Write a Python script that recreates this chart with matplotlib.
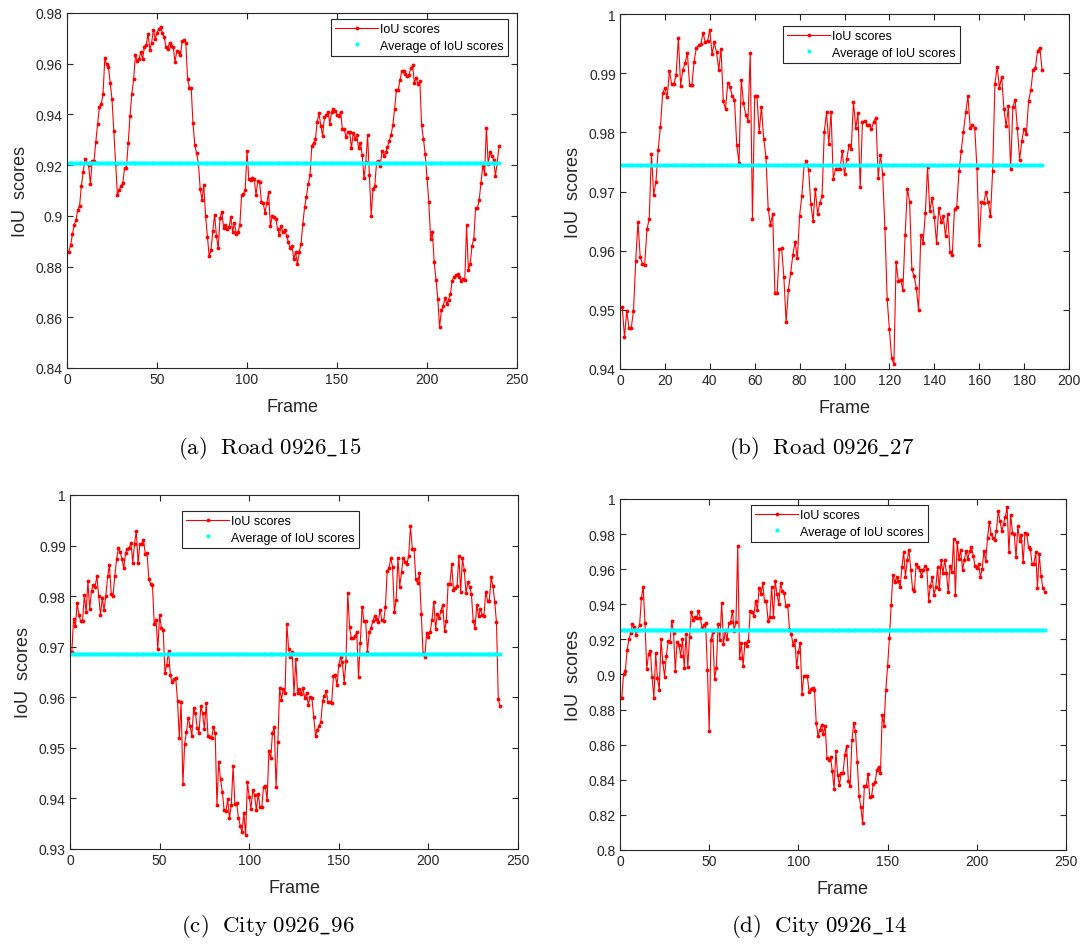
import numpy as np
import matplotlib
matplotlib.use('Agg')
import matplotlib.pyplot as plt
from matplotlib.ticker import FuncFormatter, MultipleLocator

# --- DATA ---
iou_a = [
    0.8859, 0.8885, 0.8927, 0.8964, 0.8985, 0.9024, 0.904, 0.9119, 0.9174, 0.9226,
    0.9208, 0.92, 0.9125, 0.9216, 0.9217, 0.9292, 0.9361, 0.9431, 0.9441, 0.9479,
    0.9621, 0.9597, 0.9588, 0.9523, 0.946, 0.9335, 0.9204, 0.9083, 0.9102, 0.9119,
    0.9129, 0.919, 0.919, 0.9287, 0.9394, 0.9481, 0.9538, 0.9633, 0.961, 0.9617,
    0.9647, 0.9617, 0.9667, 0.9672, 0.9719, 0.9656, 0.9683, 0.9732, 0.9698, 0.9722,
    0.9738, 0.9744, 0.9722, 0.9704, 0.9667, 0.9659, 0.9683, 0.967, 0.9666, 0.9607,
    0.965, 0.9646, 0.9635, 0.9688, 0.9693, 0.9683, 0.9538, 0.9506, 0.9503, 0.9365,
    0.9279, 0.9246, 0.9208, 0.9106, 0.9064, 0.9121, 0.8998, 0.8918, 0.884, 0.8865,
    0.894, 0.9005, 0.8922, 0.8872, 0.899, 0.9017, 0.8954, 0.8964, 0.8948, 0.8955,
    0.8996, 0.8938, 0.8972, 0.893, 0.8938, 0.8962, 0.9082, 0.9086, 0.9102, 0.9255,
    0.9145, 0.9142, 0.9148, 0.9145, 0.9083, 0.9137, 0.9132, 0.9056, 0.9051, 0.9011,
    0.9051, 0.9093, 0.8959, 0.8998, 0.8994, 0.8988, 0.8948, 0.8925, 0.8959, 0.8935,
    0.8946, 0.8922, 0.8896, 0.8872, 0.8883,
    0.883, 0.8857, 0.8811, 0.8857, 0.8889, 0.8968, 0.9034, 0.9076, 0.9125, 0.9161,
    0.9274, 0.9289, 0.9302, 0.9371, 0.9405, 0.9355, 0.9316, 0.9388, 0.9397, 0.941,
    0.9363, 0.941, 0.9423, 0.9415, 0.9397, 0.9394, 0.941, 0.9342, 0.9342, 0.931,
    0.9329, 0.9331, 0.9266, 0.9326, 0.9305, 0.9318, 0.9266, 0.9289, 0.9241, 0.9148,
    0.9211, 0.9318, 0.9162, 0.9001, 0.9106, 0.9119, 0.9213, 0.9216, 0.9198, 0.9255,
    0.9237, 0.925, 0.927, 0.9296, 0.9318, 0.9357, 0.942, 0.9496, 0.9496, 0.9536,
    0.9571, 0.9571, 0.9558, 0.9551, 0.9557, 0.9582, 0.9593, 0.9525, 0.9545, 0.9519,
    0.9532, 0.9357, 0.9305, 0.9243, 0.9148, 0.9056, 0.8909, 0.8938, 0.8817, 0.8749,
    0.8673, 0.8562, 0.8627, 0.8643, 0.8676, 0.8653, 0.867, 0.869, 0.8745, 0.8758,
    0.8765, 0.8769, 0.8757, 0.8745, 0.8752, 0.8747, 0.8964, 0.8785, 0.8811, 0.8883,
    0.8909, 0.903, 0.903, 0.9064, 0.9129, 0.9198, 0.9165, 0.9348, 0.9204, 0.925,
    0.9237, 0.9221, 0.9158, 0.9208, 0.9274,
]
iou_b = [
    0.9504, 0.9454, 0.9498, 0.9469, 0.9469, 0.9498, 0.9582, 0.9649, 0.9589, 0.9578,
    0.9576, 0.9636, 0.9653, 0.9764, 0.9694, 0.9716, 0.977, 0.9809, 0.9866, 0.9875,
    0.9859, 0.9904, 0.9881, 0.9881, 0.9897, 0.996, 0.9879, 0.9906, 0.9917, 0.9934,
    0.988, 0.988, 0.9919, 0.9943, 0.9947, 0.9949, 0.9968, 0.9952, 0.9955, 0.9973,
    0.9932, 0.9952, 0.9935, 0.9906, 0.9941, 0.9853, 0.984, 0.9883, 0.9877, 0.9861,
    0.9855, 0.9779, 0.9748, 0.9889, 0.9849, 0.983, 0.982, 0.9934, 0.9653, 0.9861,
    0.9861, 0.98, 0.9843, 0.9789, 0.9759, 0.9671, 0.9644, 0.9662, 0.9529, 0.9529,
    0.9602, 0.9604, 0.9555, 0.9479, 0.9534, 0.9562, 0.9593, 0.9615, 0.9587, 0.9659,
    0.9693, 0.9744, 0.9752, 0.9737, 0.9679, 0.965, 0.9705, 0.9662, 0.9681, 0.9692,
    0.9801, 0.9834, 0.978, 0.9835, 0.9721, 0.9738, 0.9738, 0.9738, 0.9768, 0.9729,
    0.9755, 0.9778, 0.9772, 0.9852, 0.9807, 0.9832, 0.9707, 0.9817, 0.982, 0.9813,
    0.9812, 0.9805, 0.9818, 0.9825, 0.9723, 0.9762, 0.9729, 0.9638, 0.9519, 0.9467,
    0.9418, 0.9409, 0.9581, 0.9548, 0.9551, 0.9534, 0.9626, 0.9705, 0.9683, 0.9569,
    0.9557, 0.9537, 0.9499, 0.9627, 0.9613, 0.9663, 0.9742, 0.9667, 0.9689, 0.9657,
    0.9613, 0.9672, 0.9649, 0.9658, 0.9624, 0.9662, 0.9597, 0.9592, 0.9671, 0.9674,
    0.9734, 0.9769, 0.9801, 0.9834, 0.9861, 0.9807, 0.9813, 0.9808, 0.974, 0.961,
    0.9683, 0.9681, 0.9699, 0.9682, 0.9658, 0.9735, 0.9882, 0.9911, 0.9875, 0.9894,
    0.984, 0.981, 0.9844, 0.9738, 0.9843, 0.9855, 0.9807, 0.9754, 0.9786, 0.9806,
    0.9797, 0.9853, 0.9872, 0.9905, 0.9908, 0.9938, 0.9943, 0.9906,
]
iou_c = [
    0.969, 0.9754, 0.9741, 0.9786, 0.9763, 0.975, 0.975, 0.9802, 0.9768, 0.9829,
    0.9774, 0.9811, 0.9823, 0.9819, 0.9839, 0.98, 0.9763, 0.9796, 0.9773, 0.98,
    0.9839, 0.9862, 0.9804, 0.98, 0.984, 0.9873, 0.9895, 0.9888, 0.9873, 0.9855,
    0.9886, 0.9893, 0.9895, 0.9906, 0.9866, 0.9903, 0.9929, 0.9865, 0.9903, 0.9904,
    0.9911, 0.9884, 0.9885, 0.9833, 0.9824, 0.9823, 0.9745, 0.9753, 0.9695, 0.9763,
    0.9737, 0.9733, 0.9648, 0.9664, 0.9692, 0.9644, 0.963, 0.9636, 0.9638, 0.9593,
    0.952, 0.959, 0.9428, 0.9508, 0.9532, 0.9559, 0.9543, 0.9524, 0.9578, 0.9568,
    0.9539, 0.953, 0.9582, 0.9568, 0.9537, 0.9588, 0.9524, 0.9522, 0.9519, 0.9541,
    0.9529, 0.9387, 0.9473, 0.9438, 0.9413, 0.9377, 0.9375, 0.9398, 0.9361, 0.9387,
    0.9464, 0.9389, 0.939, 0.9362, 0.9346, 0.9334, 0.9372, 0.9327, 0.9433, 0.9402,
    0.938, 0.9417, 0.9407, 0.9377, 0.9409, 0.9383, 0.9383, 0.9423, 0.9425, 0.9396,
    0.9493, 0.9479, 0.953, 0.9541, 0.9423, 0.9512, 0.9618, 0.9595, 0.9616, 0.9608,
    0.9745, 0.9695,
    0.9679, 0.9689, 0.9607, 0.9675, 0.9608, 0.9617, 0.9607, 0.9618, 0.9598, 0.9608,
    0.9585, 0.9601, 0.9598, 0.9562, 0.9524, 0.9535, 0.9543, 0.9552, 0.9593, 0.9603,
    0.9613, 0.959, 0.959, 0.9588, 0.9642, 0.9644, 0.9624, 0.9664, 0.9679, 0.9669,
    0.9629, 0.9671, 0.9807, 0.9738, 0.9717, 0.9717, 0.9721, 0.9729, 0.9641, 0.9708,
    0.9779, 0.9751, 0.975, 0.969, 0.9729, 0.9737, 0.9751, 0.9761, 0.9754, 0.9748,
    0.9773, 0.9753, 0.975, 0.9778, 0.9849, 0.9856, 0.9875, 0.9858, 0.9768, 0.9793,
    0.9875, 0.9819, 0.9847, 0.9876, 0.9868, 0.9863, 0.988, 0.9938, 0.9894, 0.9893,
    0.9833, 0.9826, 0.9845, 0.9765, 0.9688, 0.9679, 0.9727, 0.9719, 0.9729, 0.9753,
    0.9789, 0.9735, 0.9765, 0.9756, 0.9771, 0.9783, 0.9731, 0.9751, 0.9824, 0.9824,
    0.9863, 0.9812, 0.9816, 0.982, 0.988, 0.9809, 0.9875, 0.9852, 0.9806, 0.9827,
    0.9818, 0.9804, 0.9751, 0.9737, 0.9783, 0.976, 0.9774, 0.9763, 0.9761, 0.9809,
    0.9791, 0.9791, 0.9837, 0.982, 0.9789, 0.9748, 0.9596, 0.9582,
]
iou_d = [
    0.8866, 0.9003, 0.9022, 0.914, 0.92, 0.9236, 0.9288, 0.9269, 0.9227, 0.9254,
    0.9284, 0.9436, 0.95, 0.9291, 0.9032, 0.9117, 0.9136, 0.8984, 0.8866, 0.9121,
    0.8978, 0.8914, 0.9202, 0.9069, 0.8988, 0.9107, 0.9189, 0.9183, 0.9307, 0.9236,
    0.9022, 0.9183, 0.917, 0.9107, 0.9202, 0.9039, 0.9231, 0.9045, 0.9212, 0.9358,
    0.9312, 0.9326, 0.9322, 0.936, 0.9322, 0.9265, 0.9282, 0.9291, 0.9026, 0.868,
    0.9197, 0.9244, 0.8975, 0.9037, 0.9288, 0.9197, 0.9409, 0.9174, 0.9246, 0.92,
    0.9291, 0.9297, 0.9364, 0.925, 0.9299, 0.9732, 0.9096, 0.9178, 0.905, 0.9178,
    0.9164, 0.9193, 0.9364, 0.9354, 0.9335, 0.942, 0.9369, 0.9493, 0.9458, 0.9519,
    0.9417, 0.942, 0.9307, 0.9326, 0.95, 0.9326, 0.9531, 0.9458, 0.9402, 0.9519,
    0.9477, 0.9462, 0.939, 0.9398, 0.9259, 0.9231, 0.9168, 0.9197, 0.9041, 0.913,
    0.9178, 0.8889, 0.899, 0.8992, 0.8992, 0.8899, 0.8918, 0.8921, 0.8914, 0.8724,
    0.8652, 0.8684, 0.8713, 0.8661, 0.8709, 0.8523, 0.8513, 0.8529, 0.8449, 0.8348,
    0.8563, 0.8428, 0.8371, 0.8438, 0.8438, 0.8542, 0.8593, 0.8396, 0.8362, 0.8624,
    0.8722, 0.8677, 0.85, 0.831, 0.8244, 0.8153, 0.8367, 0.8362, 0.8434, 0.8301,
    0.8307, 0.8377, 0.8386, 0.8457, 0.8472, 0.8438, 0.8772, 0.8709, 0.8914, 0.9047,
    0.9206, 0.9396, 0.9568, 0.9525, 0.9553, 0.9534, 0.9496, 0.961, 0.9699, 0.9557,
    0.9652, 0.9709, 0.9595, 0.9487, 0.9477, 0.9629, 0.961, 0.9595, 0.9563, 0.9595,
    0.962, 0.9601, 0.942, 0.9506, 0.9553, 0.9455, 0.9496, 0.961, 0.9487, 0.9654,
    0.9576, 0.9652, 0.9576, 0.9468, 0.962, 0.9582, 0.9772, 0.9455, 0.9753, 0.9658,
    0.9709, 0.9597, 0.9652, 0.9705, 0.9658, 0.9705, 0.9724, 0.9677, 0.9616, 0.9605,
    0.9629, 0.9557, 0.9601, 0.9705, 0.9644, 0.9777, 0.987, 0.98, 0.9777, 0.9766,
    0.9819, 0.9933, 0.9872, 0.9819, 0.9857, 0.9899, 0.9952, 0.9696, 0.991, 0.9809,
    0.98, 0.9667, 0.9847, 0.9762, 0.9796, 0.9639, 0.9809, 0.98, 0.9724, 0.9715,
    0.9629, 0.9629, 0.9696, 0.9493, 0.9686, 0.9563, 0.9493, 0.9472,
]
# average IoU levels (cyan lines)
avg_a, avg_b, avg_c, avg_d = 0.9208, 0.9744, 0.9685, 0.9253

captions = ['(a)  Road 0926_15', '(b)  Road 0926_27', '(c)  City 0926_96', '(d)  City 0926_14']

# --- STYLE ---
plt.rcParams['font.family'] = ['Liberation Sans', 'DejaVu Sans']
plt.rcParams['mathtext.fontset'] = 'cm'
AXC = '#262626'

W, H = 1083, 945
fig = plt.figure(figsize=(W / 100, H / 100), dpi=100)


def px_axes(l, t, r, b):
    return fig.add_axes([l / W, 1 - b / H, (r - l) / W, (b - t) / H])


panels = [
    # data, avg, axes box (px), xlim, ylim, y step, legend top-left (px)
    (iou_a, avg_a, (67, 14, 517, 369), 250, (0.84, 0.98), 0.02, (331, 20)),
    (iou_b, avg_b, (620, 15, 1069, 370), 200, (0.94, 1.0), 0.01, (783, 27)),
    (iou_c, avg_c, (70, 496, 518, 850), 250, (0.93, 1.0), 0.01, (182, 512)),
    (iou_d, avg_d, (620, 500, 1066, 851), 250, (0.80, 1.0), 0.02, (751, 506)),
]
caption_xy = [(270, 448), (822, 448), (268, 926), (819, 926)]

for (vals, avg, box, xmax, ylim, ystep, leg), cap, cxy in zip(panels, captions, caption_xy):
    ax = px_axes(*box)
    frames = np.arange(1, len(vals) + 1)
    ax.plot(frames, vals, '.-', color='red', lw=0.8, ms=3.5, label='IoU scores')
    ax.plot(frames, np.full(len(vals), avg), '.', color='cyan', ms=4, label='Average of IoU scores')

    ax.set_xlim(0, xmax)
    ax.set_ylim(*ylim)
    ax.xaxis.set_major_locator(MultipleLocator(50 if xmax == 250 else 20))
    ax.yaxis.set_major_locator(MultipleLocator(ystep))
    ax.yaxis.set_major_formatter(FuncFormatter(lambda v, p: f'{round(v, 4):g}'))
    ax.tick_params(direction='in', length=4, width=0.8, colors=AXC, labelsize=10,
                   top=True, right=True, pad=3)
    for s in ax.spines.values():
        s.set_color(AXC)
        s.set_linewidth(0.8)

    ax.set_xlabel('Frame', fontsize=13, color=AXC)
    ax.set_ylabel('IoU  scores', fontsize=13, color=AXC)
    l, t, r, b = box
    # label offsets measured in pixels from the axes frame
    ax.xaxis.set_label_coords(0.5, -30 / (b - t))
    ax.yaxis.set_label_coords(-38 / (r - l), 0.5)

    lx, ly = leg
    lg = ax.legend(loc='upper left', bbox_to_anchor=((lx - l) / (r - l), 1 - (ly - t) / (b - t)),
                   borderaxespad=0, fontsize=9, numpoints=1, handlelength=3.4,
                   handletextpad=0.2, borderpad=0.35, labelspacing=0.35,
                   fancybox=False, framealpha=1, edgecolor=AXC)
    lg.get_frame().set_linewidth(0.8)

    txt = cap.replace(' ', r'\ ').replace('_', r'\_')
    fig.text(cxy[0] / W, 1 - (cxy[1] + 1) / H, r'$\mathrm{' + txt + '}$',
             ha='center', va='center', fontsize=16.5)

plt.savefig('out.png', dpi=100)
plt.close()
